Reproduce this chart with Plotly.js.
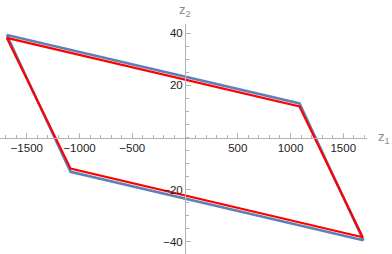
<!DOCTYPE html>
<html>
<head>
<meta charset="utf-8">
<script src="https://cdn.plot.ly/plotly-3.0.1.min.js"></script>
<style>html,body{margin:0;padding:0;background:#fff;}#chart{width:392px;height:254px;}</style>
</head>
<body>
<div id="chart"></div>
<script>
// Data
const blueZ1 = [-1690, 1085, 1690, -1085, -1690];
const blueZ2 = [39.3, 13.1, -39.3, -13.1, 39.3];
const redZ1 = [-1690, 1085, 1685, -1085, -1690];
const redZ2 = [38.2, 11.9, -38.2, -11.9, 38.2];
const xTicks = [-1500, -1000, -500, 500, 1000, 1500];
const yTicks = [-40, -20, 20, 40];
const xLabel = 'z<sub>1</sub>';
const yLabel = 'z<sub>2</sub>';

const xRange = [-1754, 1725];
const yRange = [-44.6, 43.5];
const xZeroPos = (0 - xRange[0]) / (xRange[1] - xRange[0]);
const yZeroPos = (0 - yRange[0]) / (yRange[1] - yRange[0]);

const axisColor = '#b3b3b3';
const tickFont = {family: 'Liberation Sans, Arial, sans-serif', size: 11.5, color: '#222'};

const traces = [
  {x: blueZ1, y: blueZ2, mode: 'lines', line: {color: '#5E81B5', width: 2.6}, hoverinfo: 'skip'},
  {x: redZ1, y: redZ2, mode: 'lines', line: {color: '#FF0000', width: 2.2}, hoverinfo: 'skip'}
];

const layout = {
  width: 392, height: 254,
  margin: {l: 0, r: 25, t: 24, b: 0, pad: 0},
  paper_bgcolor: '#fff', plot_bgcolor: '#fff',
  showlegend: false,
  xaxis: {
    range: xRange, domain: [0, 1], anchor: 'free', position: yZeroPos,
    showgrid: false, zeroline: false, showline: true, linecolor: axisColor, linewidth: 1,
    tickmode: 'array', tickvals: xTicks, ticks: 'inside', ticklen: 4.5, tickcolor: axisColor, tickwidth: 1,
    minor: {dtick: 100, ticks: 'inside', ticklen: 2.5, tickcolor: axisColor, showgrid: false},
    tickfont: tickFont, fixedrange: true
  },
  yaxis: {
    range: yRange, domain: [0, 1], anchor: 'free', position: xZeroPos,
    showgrid: false, zeroline: false, showline: true, linecolor: axisColor, linewidth: 1,
    tickmode: 'array', tickvals: yTicks, ticks: 'inside', ticklen: 4.5, tickcolor: axisColor, tickwidth: 1,
    minor: {dtick: 5, ticks: 'inside', ticklen: 2.5, tickcolor: axisColor, showgrid: false},
    tickfont: tickFont, fixedrange: true
  },
  annotations: [
    {text: xLabel, xref: 'paper', yref: 'y', x: 1.025, y: 0, xanchor: 'left', yanchor: 'middle',
     showarrow: false, font: {family: 'Liberation Sans, Arial, sans-serif', size: 13, color: '#8a8a8a'}},
    {text: yLabel, xref: 'x', yref: 'paper', x: 0, y: 1.0, yshift: 3, xanchor: 'center', yanchor: 'bottom',
     showarrow: false, font: {family: 'Liberation Sans, Arial, sans-serif', size: 13, color: '#8a8a8a'}}
  ]
};

Plotly.newPlot('chart', traces, layout, {displayModeBar: false, staticPlot: true});
</script>
</body>
</html>
